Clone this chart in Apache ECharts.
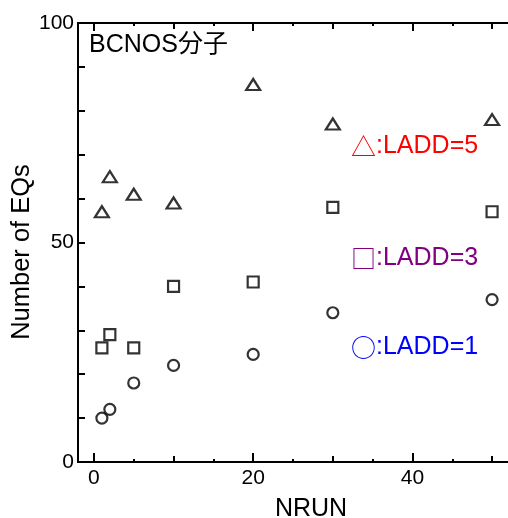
<!DOCTYPE html>
<html>
<head>
<meta charset="utf-8">
<script src="https://cdn.jsdelivr.net/npm/echarts@6/dist/echarts.min.js"></script>
<style>
  html, body { margin: 0; padding: 0; background: #fff; }
  #chart { width: 508px; height: 518px; }
</style>
</head>
<body>
<div id="chart"></div>
<script>
// data
var nrun = [1, 2, 5, 10, 20, 30, 50];
var ladd5 = [57, 65, 61, 59, 86, 77, 78];
var ladd3 = [26, 29, 26, 40, 41, 58, 57];
var ladd1 = [10, 12, 18, 22, 24.5, 34, 37];
var xLabelTicks = [0, 20, 40];
var xMidTicks = [10, 30, 50];
var xMinorTicks = [5, 15, 25, 35, 45];
var yLabels = [0, 50, 100];

var FONT = '"Liberation Sans", Arial, "Noto Sans CJK JP", sans-serif';
var CJK = '"Noto Sans CJK JP", sans-serif';

function makeGrid() {
  return { left: 78, right: 0, top: 23, bottom: 56, containLabel: false, outerBoundsMode: 'none' };
}

function pairs(ys) {
  var out = [];
  for (var i = 0; i < nrun.length; i++) out.push([nrun[i], ys[i]]);
  return out;
}

// a grid holds one top and one bottom x axis,
// so each tick length gets its own stacked grid
function xAx(g, pos, ticks, len, withLabel) {
  return {
    type: 'value', gridIndex: g, position: pos, min: -2, max: 52,
    axisLine: { show: true, onZero: false, lineStyle: { color: '#000', width: 2 } },
    axisTick: { show: true, inside: true, length: len, customValues: ticks,
                lineStyle: { color: '#000', width: 2 } },
    axisLabel: withLabel ? { show: true, customValues: ticks, margin: 6,
                fontSize: 21, color: '#000', fontFamily: FONT } : { show: false },
    splitLine: { show: false }
  };
}

function plainY(g) {
  return {
    type: 'value', gridIndex: g, min: 0, max: 100, interval: 10,
    axisLine: { show: true, onZero: false, lineStyle: { color: '#000', width: 2 } },
    axisTick: { show: true, inside: true, length: 7, lineStyle: { color: '#000', width: 2 } },
    axisLabel: g === 0 ? { margin: 4, fontSize: 21, color: '#000', fontFamily: FONT,
      formatter: function (v) { return yLabels.indexOf(v) >= 0 ? String(v) : ''; } } : { show: false },
    splitLine: { show: false }
  };
}

// legend-like label: symbol glyph in CJK font, rest in sans
function legendText(x, y, sym, txt, col) {
  return {
    type: 'text', x: x, y: y,
    style: {
      text: '{s|' + sym + '}{t|' + txt + '}', verticalAlign: 'middle',
      rich: {
        s: { fontSize: 25, fontFamily: CJK, fill: col, color: col },
        t: { fontSize: 25, fontFamily: FONT, fill: col, color: col }
      }
    }
  };
}

var chart = echarts.init(document.getElementById('chart'));

chart.setOption({
  animation: false,
  grid: [makeGrid(), makeGrid(), makeGrid()],
  xAxis: [
    xAx(0, 'bottom', xLabelTicks, 9, true),
    xAx(0, 'top', xLabelTicks, 8, false),
    xAx(1, 'bottom', xMidTicks, 6, false),
    xAx(1, 'top', xMidTicks, 6, false),
    xAx(2, 'bottom', xMinorTicks, 3, false),
    xAx(2, 'top', xMinorTicks, 3, false)
  ],
  yAxis: [plainY(0), plainY(1), plainY(2)],
  series: [
    { type: 'scatter', name: 'LADD=5', data: pairs(ladd5), symbol: 'triangle',
      symbolSize: [14, 11], itemStyle: { color: '#fff', borderColor: '#000', borderWidth: 2.2 } },
    { type: 'scatter', name: 'LADD=3', data: pairs(ladd3), symbol: 'rect',
      symbolSize: 11, itemStyle: { color: '#fff', borderColor: '#000', borderWidth: 2.2 } },
    { type: 'scatter', name: 'LADD=1', data: pairs(ladd1), symbol: 'circle',
      symbolSize: 11, itemStyle: { color: '#fff', borderColor: '#000', borderWidth: 2.2 } }
  ],
  graphic: [
    { type: 'text', x: 89, y: 45,
      style: { text: 'BCNOS分子', fontSize: 25, fontFamily: FONT, fill: '#000', verticalAlign: 'middle' } },
    legendText(351, 146, '△', ':LADD=5', '#ff0000'),
    legendText(351, 258, '□', ':LADD=3', '#800080'),
    legendText(351, 347, '○', ':LADD=1', '#0000ff'),
    { type: 'text', x: 311, y: 509,
      style: { text: 'NRUN', fontSize: 25, fontFamily: FONT, fill: '#000', align: 'center', verticalAlign: 'middle' } },
    { type: 'text', x: 22, y: 252, rotation: Math.PI / 2,
      style: { text: 'Number of EQs', fontSize: 25.5, fontFamily: FONT, fill: '#000', align: 'center', verticalAlign: 'middle' } }
  ]
});
</script>
</body>
</html>
